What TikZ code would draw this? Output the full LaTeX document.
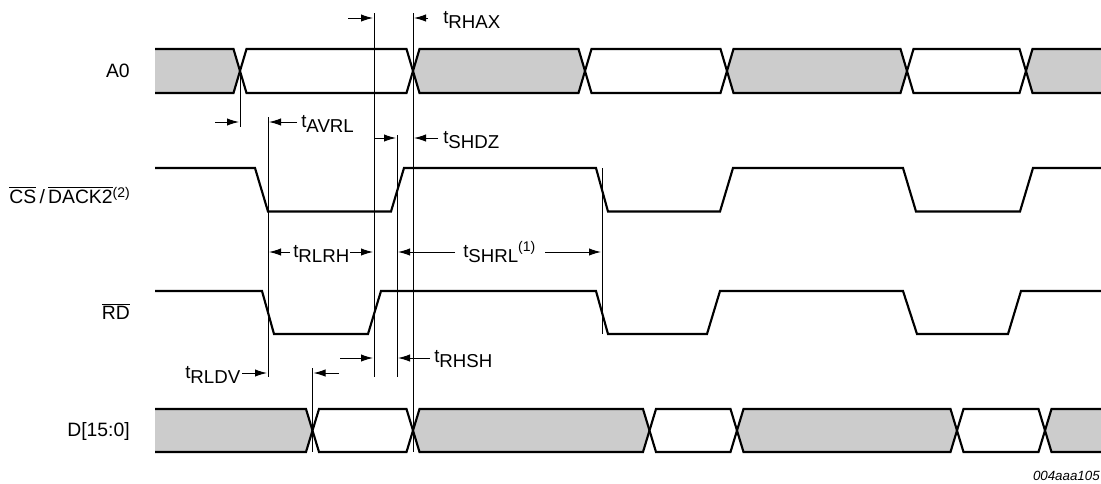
\documentclass[tikz,border=0pt]{standalone}
\usepackage{fontspec}
\setmainfont{Liberation Sans}
\usetikzlibrary{arrows.meta}
\newcommand{\tlbl}[1]{t\raisebox{-4pt}{#1}}
\newcommand{\supnote}[1]{\raisebox{4.5pt}{\fontsize{10.5}{12}\selectfont(#1)}}
\begin{document}
\begin{tikzpicture}[x=0.75pt,y=-0.75pt]
		\tikzset{sig/.style={line width=1.6pt, line join=miter}}
		\tikzset{ref/.style={line width=0.6pt}}
		\tikzset{dim/.style={line width=0.75pt, -{Latex[length=9pt,width=5.5pt]}}}
		\tikzset{signame/.style={font=\fontsize{14.5}{16}\selectfont, inner sep=0pt, anchor=base east}}
		\tikzset{tlabel/.style={font=\fontsize{14}{16}\selectfont, inner sep=0pt, anchor=base west}}
		\useasboundingbox (0,0) rectangle (1101,483);
		%signal names
		\node[signame] (a0) at (130,77.5) {A0};
		\node[signame] (cs) at (130,203) {$\overline{\mbox{CS}}$\,/\,$\overline{\mbox{DACK2}}$\supnote{2}};
		\node[signame] (rd) at (130,319) {$\overline{\mbox{RD}}$};
		\node[signame] (d) at (130,436) {D[15:0]};
		%A0 bus
		\fill[black!20] (155,49) -- (233.5,49) -- (240,71) -- (233.5,93) -- (155,93) -- cycle;
		\draw[sig] (155,49) -- (233.5,49) -- (240,71) -- (233.5,93) -- (155,93);
		\foreach \a/\b/\f in {240/413/white, 413/585/black!20, 585/727/white, 727/907/black!20, 907/1026/white}
			\draw[sig, fill=\f] (\a,71) -- (\a+6.5,49) -- (\b-6.5,49) -- (\b,71) -- (\b-6.5,93) -- (\a+6.5,93) -- cycle;
		\fill[black!20] (1026,71) -- (1032.5,49) -- (1101,49) -- (1101,93) -- (1032.5,93) -- cycle;
		\draw[sig] (1101,49) -- (1032.5,49) -- (1026,71) -- (1032.5,93) -- (1101,93);
		%CS/DACK2
		\draw[sig] (155,168) -- (255,168) -- (268,211.5) -- (391,211.5) -- (404,168) -- (596,168) -- (608,211.5)
			-- (720,211.5) -- (733,168) -- (903,168) -- (916,211.5) -- (1020,211.5) -- (1033,168) -- (1101,168);
		%RD
		\draw[sig] (155,291) -- (262,291) -- (274,334) -- (368,334) -- (381,291) -- (596,291) -- (608,334)
			-- (707,334) -- (720,291) -- (903,291) -- (917,334) -- (1008,334) -- (1021,291) -- (1101,291);
		%D bus
		\fill[black!20] (155,409) -- (306,409) -- (312.5,430.5) -- (306,452) -- (155,452) -- cycle;
		\draw[sig] (155,409) -- (306,409) -- (312.5,430.5) -- (306,452) -- (155,452);
		\foreach \a/\b/\f in {312.5/413/white, 413/649.5/black!20, 649.5/737/white, 737/957/black!20, 957/1045/white}
			\draw[sig, fill=\f] (\a,430.5) -- (\a+6.5,409) -- (\b-6.5,409) -- (\b,430.5) -- (\b-6.5,452) -- (\a+6.5,452) -- cycle;
		\fill[black!20] (1045,430.5) -- (1051.5,409) -- (1101,409) -- (1101,452) -- (1051.5,452) -- cycle;
		\draw[sig] (1101,409) -- (1051.5,409) -- (1045,430.5) -- (1051.5,452) -- (1101,452);
		%reference lines
		\draw[ref] (240,71) -- (240,127);
		\draw[ref] (268,117) -- (268,377);
		\draw[ref] (374,13) -- (374,377);
		\draw[ref] (397,135) -- (397,377);
		\draw[ref] (413,13) -- (413,452);
		\draw[ref] (312.5,368) -- (312.5,452);
		\draw[ref] (602,168) -- (602,334);
		%timing labels
		\node[tlabel] (rhax) at (443,23) {\tlbl{RHAX}};
		\node[tlabel] (avrl) at (301,127) {\tlbl{AVRL}};
		\node[tlabel] (shdz) at (443,143) {\tlbl{SHDZ}};
		\node[tlabel] (rlrh) at (293,257) {\tlbl{RLRH}};
		\node[tlabel] (shrl) at (463,257) {\tlbl{SHRL}\supnote{1}};
		\node[tlabel] (rhsh) at (434,362) {\tlbl{RHSH}};
		\node[tlabel] (rldv) at (185,378) {\tlbl{RLDV}};
		%timing arrows
		\draw[dim] (348,18) -- (373,18);
		\draw[dim] (428,18) -- (414,18);
		\draw[dim] (215,122) -- (239,122);
		\draw[dim] (297,122) -- (269,122);
		\draw[dim] (374,138) -- (396,138);
		\draw[dim] (438,138) -- (414,138);
		\draw[dim] (290,252) -- (269,252);
		\draw[dim] (350,252) -- (373,252);
		\draw[dim] (455,252) -- (398,252);
		\draw[dim] (545,252) -- (601,252);
		\draw[dim] (340,358) -- (373,358);
		\draw[dim] (430,358) -- (398,358);
		\draw[dim] (242,373) -- (267,373);
		\draw[dim] (339,373) -- (313.5,373);
		%figure code
		\node[font=\fontsize{10}{12}\selectfont\itshape, inner sep=0pt, anchor=base east] (fig) at (1100,480) {004aaa105};
\end{tikzpicture}
\end{document}
